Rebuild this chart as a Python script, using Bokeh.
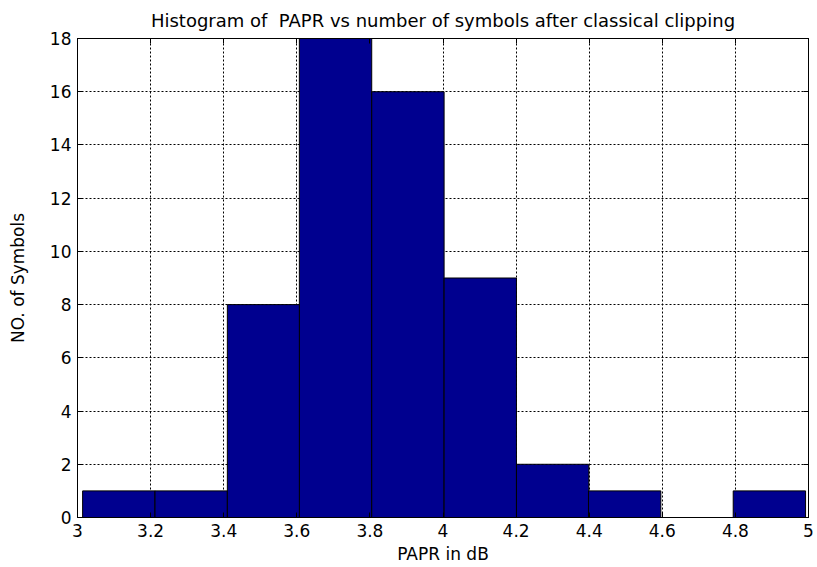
from bokeh.plotting import figure
from bokeh.models import LinearAxis, FixedTicker, Range1d, CustomJSTickFormatter
from bokeh.embed import file_html
from bokeh.resources import INLINE

# Histogram data (bin centres in dB, counts)
bin_centers = [3.113, 3.311, 3.509, 3.706, 3.904, 4.102, 4.300, 4.497, 4.695, 4.893]
counts = [1, 1, 8, 18, 16, 9, 2, 1, 0, 1]
bin_width = 0.198

x_ticks = [3.0, 3.2, 3.4, 3.6, 3.8, 4.0, 4.2, 4.4, 4.6, 4.8, 5.0]
x_tick_labels = ["3", "3.2", "3.4", "3.6", "3.8", "4", "4.2", "4.4", "4.6", "4.8", "5"]
y_ticks = [0, 2, 4, 6, 8, 10, 12, 14, 16, 18]

title_text = "Histogram of \u00a0PAPR vs number of symbols after classical clipping"
x_label = "PAPR in dB"
y_label = "NO. of Symbols"

FONT = "DejaVu Sans"
FS = "17px"

p = figure(width=817, height=567, output_backend="svg", toolbar_location=None,
           x_range=Range1d(3, 5), y_range=Range1d(0, 18),
           min_border_left=77, min_border_right=9, min_border_top=38, min_border_bottom=50)

p.title.text = title_text
p.title.align = "center"
p.title.text_font = FONT
p.title.text_font_size = "18px"
p.title.text_font_style = "normal"
p.title.text_color = "black"
p.title.standoff = 15

p.vbar(x=bin_centers, top=counts, bottom=0, width=bin_width,
       fill_color="#00008F", line_color="black", line_width=1)

p.outline_line_color = "black"
p.outline_line_width = 1
p.background_fill_color = "white"
p.border_fill_color = "white"

for ax in [p.xaxis[0], p.yaxis[0]]:
    ax.major_tick_in = 5
    ax.major_tick_out = 0
    ax.minor_tick_line_color = None
    ax.axis_line_color = "black"
    ax.major_tick_line_color = "black"
    ax.major_label_text_font = FONT
    ax.major_label_text_font_size = FS
    ax.major_label_text_color = "black"
    ax.axis_label_text_font = FONT
    ax.axis_label_text_font_size = FS
    ax.axis_label_text_font_style = "normal"
    ax.axis_label_text_color = "black"

p.xaxis[0].ticker = FixedTicker(ticks=x_ticks)
p.xaxis[0].major_label_overrides = {t: l for t, l in zip(x_ticks, x_tick_labels)}
p.xaxis[0].axis_label = x_label
p.xaxis[0].major_label_standoff = 6
p.xaxis[0].axis_label_standoff = 4

p.yaxis[0].ticker = FixedTicker(ticks=y_ticks)
p.yaxis[0].axis_label = y_label
p.yaxis[0].major_label_standoff = 6
p.yaxis[0].axis_label_standoff = 19

for side in ["right", "above"]:
    ax = LinearAxis(ticker=FixedTicker(ticks=(y_ticks if side == "right" else x_ticks)),
                    formatter=CustomJSTickFormatter(code="return ''"))
    ax.major_tick_in = 5
    ax.major_tick_out = 0
    ax.minor_tick_line_color = None
    ax.major_label_standoff = 0
    ax.axis_line_color = "black"
    ax.major_tick_line_color = "black"
    p.add_layout(ax, side)

p.xgrid.ticker = FixedTicker(ticks=x_ticks)
p.ygrid.ticker = FixedTicker(ticks=y_ticks)
for g in [p.xgrid[0], p.ygrid[0]]:
    g.grid_line_color = "black"
    g.grid_line_dash = "2 2"
    g.grid_line_width = 1
    g.grid_line_alpha = 1.0

open("out.html", "w").write(file_html(p, INLINE))
